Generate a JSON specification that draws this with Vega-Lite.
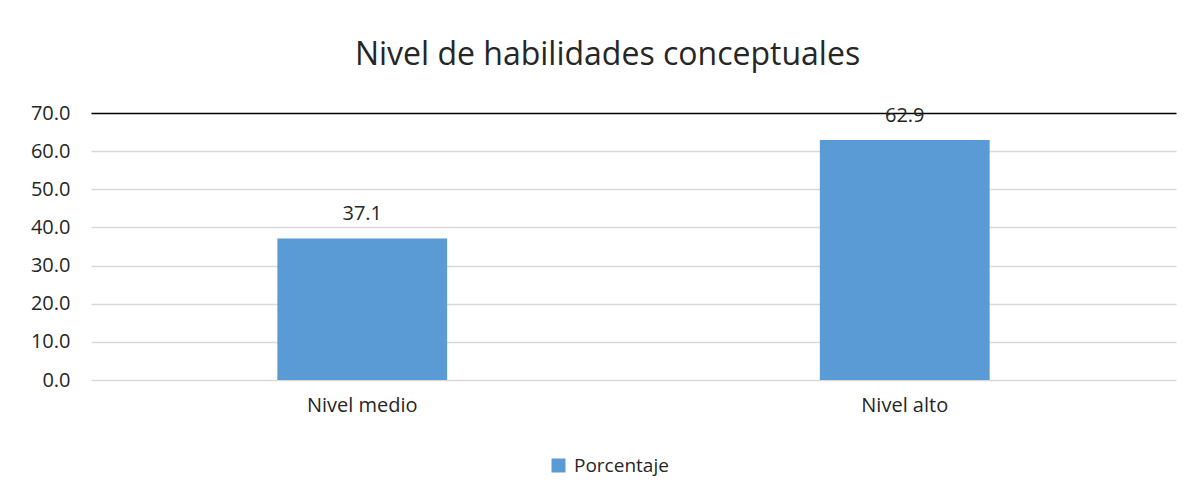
{
  "$schema": "https://vega.github.io/schema/vega-lite/v6.json",
  "autosize": {"type": "none"},
  "width": 1085,
  "height": 267,
  "padding": {"left": 91, "top": 113, "right": 16, "bottom": 113},
  "background": "white",
  "config": {
    "font": "Open Sans",
    "view": {"stroke": null}
  },
  "title": {
    "text": "Nivel de habilidades conceptuales",
    "fontSize": 32,
    "fontWeight": "normal",
    "color": "#262626",
    "anchor": "middle",
    "baseline": "alphabetic",
    "offset": 6,
    "dx": -26
  },
  "data": {
    "values": [
      {"nivel": "Nivel medio", "porcentaje": 37.1, "serie": "Porcentaje"},
      {"nivel": "Nivel alto", "porcentaje": 62.9, "serie": "Porcentaje"}
    ]
  },
  "encoding": {
    "x": {
      "field": "nivel",
      "type": "nominal",
      "sort": null,
      "scale": {"paddingInner": 0.687, "paddingOuter": 0.3435},
      "axis": {
        "title": null,
        "labelAngle": 0,
        "labelFontSize": 20,
        "labelColor": "#262626",
        "labelPadding": 15,
        "ticks": false,
        "tickSize": 0,
        "domain": false,
        "grid": false
      }
    },
    "y": {
      "field": "porcentaje",
      "type": "quantitative",
      "scale": {"domain": [0, 70], "nice": false},
      "axis": {
        "title": null,
        "values": [0, 10, 20, 30, 40, 50, 60, 70],
        "format": ".1f",
        "labelFontSize": 20,
        "labelColor": "#262626",
        "labelPadding": 21,
        "labelOverlap": false,
        "labelBound": false,
        "ticks": false,
        "tickSize": 0,
        "domain": false,
        "grid": true,
        "gridColor": {"condition": {"test": "datum.value === 70", "value": "#000000"}, "value": "#d9d9d9"},
        "gridWidth": 1.5
      }
    }
  },
  "layer": [
    {
      "mark": {"type": "bar"},
      "encoding": {
        "color": {
          "field": "serie",
          "type": "nominal",
          "scale": {"range": ["#5B9BD5"]},
          "legend": {
            "title": null,
            "orient": "none",
            "legendX": 458,
            "legendY": 343,
            "symbolType": "square",
            "symbolSize": 196,
            "symbolStrokeWidth": 0,
            "labelFontSize": 19,
            "labelColor": "#262626",
            "labelOffset": 6
          }
        }
      }
    },
    {
      "mark": {"type": "text", "baseline": "alphabetic", "dy": -18, "fontSize": 20, "color": "#262626"},
      "encoding": {
        "text": {"field": "porcentaje", "type": "quantitative", "format": ".1f"}
      }
    }
  ]
}
